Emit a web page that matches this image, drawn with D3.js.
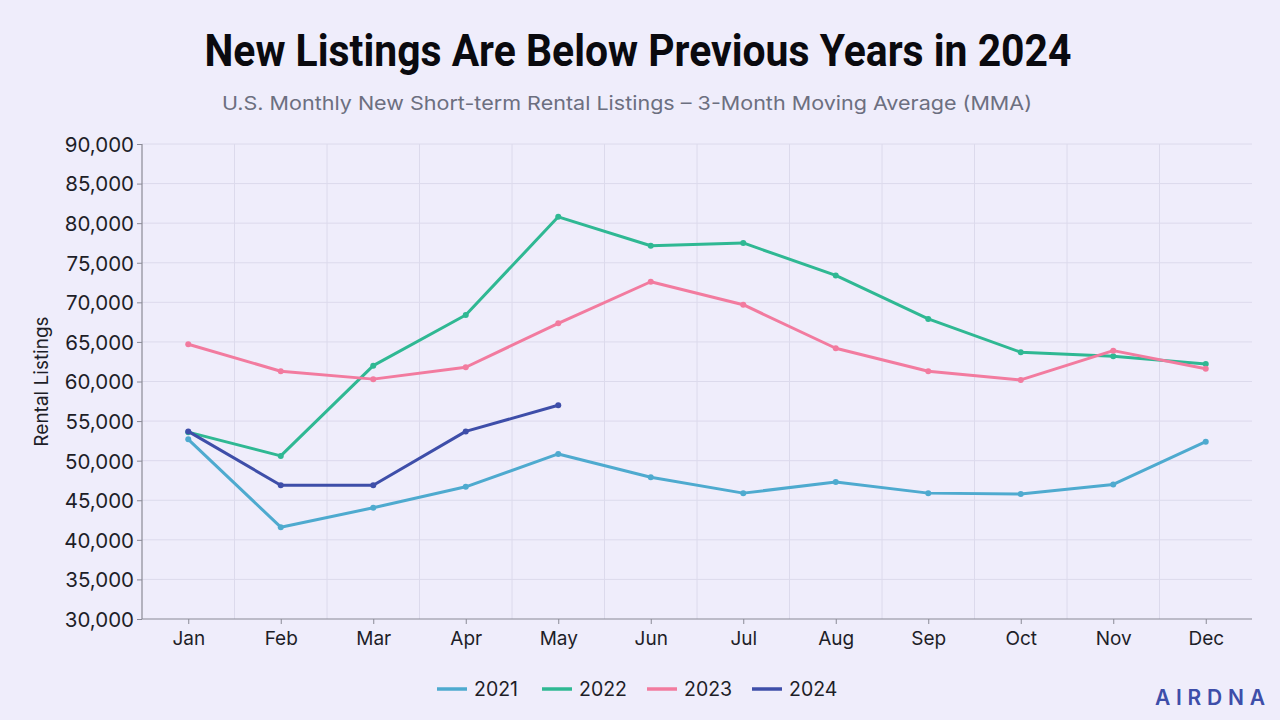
<!DOCTYPE html>
<html>
<head>
<meta charset="utf-8">
<script src="https://cdn.jsdelivr.net/npm/d3@7"></script>
<style>
  html, body { margin: 0; padding: 0; background: #efedfb; }
  svg { display: block; }
</style>
</head>
<body>
<div id="chart"></div>
<script>
// Data
const MONTHS = ['Jan', 'Feb', 'Mar', 'Apr', 'May', 'Jun', 'Jul', 'Aug', 'Sep', 'Oct', 'Nov', 'Dec'];
const YEARS = ['2021', '2022', '2023', '2024'];
const Y_TICKS = [30000, 35000, 40000, 45000, 50000, 55000, 60000, 65000, 70000, 75000, 80000, 85000, 90000];

const values2021 = [52700, 41600, 44050, 46700, 50850, 47900, 45900, 47300, 45900, 45800, 47000, 52400];
const values2022 = [53600, 50600, 62000, 68400, 80800, 77150, 77500, 73400, 67900, 63700, 63200, 62200];
const values2023 = [64700, 61300, 60300, 61800, 67350, 72600, 69700, 64200, 61300, 60200, 63900, 61600];
const values2024 = [53700, 46900, 46900, 53700, 57000];

const SERIES_COLORS = {
  '2021': '#4eaacf',
  '2022': '#2fb893',
  '2023': '#f27b9f',
  '2024': '#3e4ea9',
};

const series = [
  { year: '2021', values: values2021 },
  { year: '2022', values: values2022 },
  { year: '2023', values: values2023 },
  { year: '2024', values: values2024 },
];

const width = 1280, height = 720;
const margin = { top: 144, right: 28, bottom: 101, left: 142 };
const FONT = 'Inter, "Noto Sans", sans-serif';

const svg = d3.select('#chart').append('svg')
  .attr('width', width)
  .attr('height', height);

svg.append('rect').attr('width', width).attr('height', height).attr('fill', '#efedfb');

const x = d3.scalePoint()
  .domain(MONTHS)
  .range([margin.left, width - margin.right])
  .padding(0.5);

const y = d3.scaleLinear()
  .domain([30000, 90000])
  .range([height - margin.bottom, margin.top]);

const fmt = d3.format(',');

// ── Grid ─────────────────────────────────────────────────────────────────

const grid = svg.append('g').attr('class', 'grid');

grid.selectAll('line.h')
  .data(Y_TICKS.slice(1))
  .join('line')
  .attr('x1', margin.left)
  .attr('x2', width - margin.right)
  .attr('y1', d => y(d))
  .attr('y2', d => y(d))
  .attr('stroke', '#dcdaec')
  .attr('stroke-width', 1);

// vertical lines between month bands
const step = x.step();
grid.selectAll('line.v')
  .data(MONTHS.slice(1))
  .join('line')
  .attr('x1', d => x(d) - step / 2)
  .attr('x2', d => x(d) - step / 2)
  .attr('y1', margin.top)
  .attr('y2', height - margin.bottom)
  .attr('stroke', '#dcdaec')
  .attr('stroke-width', 1);

// ── Axes ─────────────────────────────────────────────────────────────────

const yAxis = svg.append('g')
  .attr('transform', `translate(${margin.left},0)`)
  .call(d3.axisLeft(y).tickValues(Y_TICKS).tickFormat(fmt).tickSize(5).tickPadding(3));

const xAxis = svg.append('g')
  .attr('transform', `translate(0,${height - margin.bottom})`)
  .call(d3.axisBottom(x).tickSize(5).tickPadding(8));

[yAxis, xAxis].forEach(a => {
  a.select('.domain').attr('stroke', '#8a8a96').attr('stroke-width', 1.2);
  a.selectAll('.tick line').attr('stroke', '#8a8a96');
  a.selectAll('.tick text')
    .attr('fill', '#1e1e28')
    .style('font-family', FONT)
    .style('font-size', '20.5px');
});
xAxis.selectAll('.tick text').style('font-size', '19px');
yAxis.selectAll('.tick text').attr('dy', '0.36em');
// keep the domain lines to the plot area only
xAxis.select('.domain').attr('d', `M${margin.left},0H${width - margin.right}`);
yAxis.select('.domain').attr('d', `M0,${margin.top}V${height - margin.bottom}`);

svg.append('text')
  .attr('transform', `translate(48,${(margin.top + height - margin.bottom) / 2}) rotate(-90)`)
  .attr('text-anchor', 'middle')
  .attr('fill', '#1e1e28')
  .style('font-family', FONT)
  .style('font-size', '19px')
  .text('Rental Listings');

// ── Lines ────────────────────────────────────────────────────────────────

const line = d3.line()
  .x((d, i) => x(MONTHS[i]))
  .y(d => y(d));

const lines = svg.append('g').attr('class', 'lines');

const sg = lines.selectAll('g')
  .data(series)
  .join('g');

sg.append('path')
  .attr('d', d => line(d.values))
  .attr('fill', 'none')
  .attr('stroke', d => SERIES_COLORS[d.year])
  .attr('stroke-width', 3)
  .attr('stroke-linejoin', 'round')
  .attr('stroke-linecap', 'round');

sg.selectAll('circle')
  .data(d => d.values.map((v, i) => ({ v, i, year: d.year })))
  .join('circle')
  .attr('cx', d => x(MONTHS[d.i]))
  .attr('cy', d => y(d.v))
  .attr('r', 3)
  .attr('fill', d => SERIES_COLORS[d.year]);

// ── Title ────────────────────────────────────────────────────────────────

// condensed look: tall glyphs squeezed to the reference width
svg.append('text')
  .attr('x', 638)
  .attr('y', 66)
  .attr('text-anchor', 'middle')
  .attr('fill', '#0a0a0f')
  .attr('textLength', 867)
  .attr('lengthAdjust', 'spacingAndGlyphs')
  .style('font-family', '"Liberation Sans Narrow", "Roboto", sans-serif')
  .style('font-weight', 'bold')
  .style('font-size', '45px')
  .text('New Listings Are Below Previous Years in 2024');

svg.append('text')
  .attr('x', 627)
  .attr('y', 110)
  .attr('text-anchor', 'middle')
  .attr('fill', '#6c6f80')
  .attr('textLength', 810)
  .attr('lengthAdjust', 'spacingAndGlyphs')
  .style('font-family', FONT)
  .style('font-size', '19px')
  .text('U.S. Monthly New Short-term Rental Listings – 3-Month Moving Average (MMA)');

// ── Legend ───────────────────────────────────────────────────────────────

const legendX = [437, 542, 647, 752];
const legend = svg.append('g').attr('class', 'legend');
YEARS.forEach((yr, i) => {
  const item = legend.append('g').attr('transform', `translate(${legendX[i]},689)`);
  item.append('line')
    .attr('x1', 0).attr('x2', 30)
    .attr('stroke', SERIES_COLORS[yr])
    .attr('stroke-width', 3.5);
  item.append('text')
    .attr('x', 37)
    .attr('dy', '0.36em')
    .attr('fill', '#1e1e28')
    .style('font-family', FONT)
    .style('font-size', '19.5px')
    .text(yr);
});

// ── Logo ─────────────────────────────────────────────────────────────────

svg.append('text')
  .attr('x', 1155)
  .attr('y', 705)
  .attr('fill', '#3e4ea9')
  .attr('textLength', 110)
  .attr('lengthAdjust', 'spacing')
  .style('font-family', FONT)
  .style('font-weight', '600')
  .style('font-size', '21px')
  .text('AIRDNA');
</script>
</body>
</html>
